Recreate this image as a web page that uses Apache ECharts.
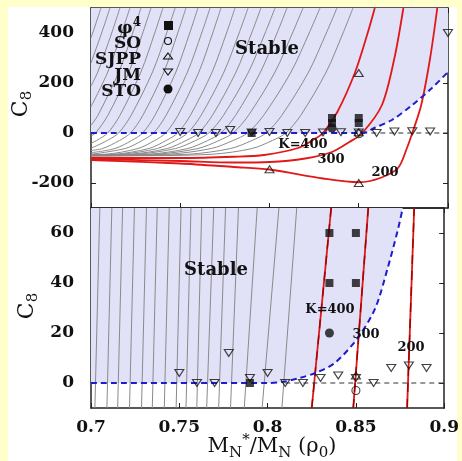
<!DOCTYPE html>
<html>
<head>
<meta charset="utf-8">
<script src="https://cdn.jsdelivr.net/npm/echarts@6/dist/echarts.min.js"></script>
<style>
html, body { margin: 0; padding: 0; background: #ffffcc; }
#chart { width: 462px; height: 461px; }
</style>
</head>
<body>
<div id="chart"></div>
<script>
// tick values
const xTicks = [0.7, 0.75, 0.8, 0.85, 0.9];
const topTicks = [-200, 0, 200, 400];
const bottomTicks = [0, 20, 40, 60];

// model points [M*/M, C8]
const phi4 = [[0.79, 0], [0.835, 40], [0.835, 60], [0.85, 40], [0.85, 60]];
const so = [[0.85, -3]];
const sjpp = [[0.8, -145], [0.85, -200], [0.85, 240], [0.85, 3]];
const jm = [[0.75, 4], [0.76, 0], [0.77, 0], [0.778, 12], [0.79, 2], [0.80, 4], [0.81, 0], [0.82, 0],
            [0.83, 2], [0.84, 3], [0.85, 2], [0.86, 0], [0.87, 6], [0.88, 7], [0.89, 6], [0.9, 400]];
const sto = [[0.835, 20]];

// stability boundary (blue dashed)
const boundTop = [[0.7, 0], [0.852, 0], [0.859, 21], [0.8686, 52], [0.880, 112], [0.891, 180], [0.9, 244]];
const boundBottom = [[0.7, 0], [0.80, 0], [0.809, 0.5], [0.818, 2], [0.827, 4], [0.838, 8], [0.851, 18],
                     [0.861, 30], [0.868, 46], [0.874, 62], [0.8765, 70]];
const zeroTop = [[0.852, 0], [0.9, 0]];
const zeroBottom = [[0.81, 0], [0.9, 0]];

// K = 400, 300, 200 curves, upper panel
const k400Top = [[0.7, -100], [0.75, -100], [0.78, -95], [0.797, -88], [0.816, -60], [0.825, -25], [0.830, 0],
                 [0.838, 84], [0.848, 244], [0.855, 400], [0.859, 500]];
const k300Top = [[0.7, -104], [0.75, -112], [0.78, -118], [0.80, -116], [0.82, -102], [0.835, -76], [0.845, -35],
                 [0.852, 0], [0.863, 112], [0.870, 300], [0.875, 500]];
const k200Top = [[0.7, -108], [0.75, -122], [0.78, -136], [0.80, -146], [0.83, -182], [0.85, -197], [0.862, -180],
                 [0.872, -140], [0.877, -60], [0.880, 0], [0.885, 112], [0.890, 300], [0.894, 500]];
// lower panel
const k400Bottom = [[0.825, -10], [0.836, 70]];
const k300Bottom = [[0.8485, -10], [0.857, 70]];
const k200Bottom = [[0.879, -10], [0.883, 70]];

// other K curves (grey), upper panel
const greyTop = [
  [[0.7, 381], [0.70095, 400], [0.7056, 500]],
  [[0.7, 280], [0.70595, 400], [0.7106, 500]],
  [[0.7, 188], [0.7038, 244], [0.7116, 400], [0.7162, 500]],
  [[0.7, 105], [0.7094, 244], [0.71715, 400], [0.7218, 500]],
  [[0.7, 31], [0.7038, 70], [0.7156, 244], [0.72335, 400], [0.7280, 500]],
  [[0.7, -12], [0.70255, 0], [0.70939, 70], [0.72121, 244], [0.72899, 400], [0.7336, 500]],
  [[0.7, -41], [0.70315, -30], [0.70935, 0], [0.71617, 70], [0.72795, 244], [0.7357, 400], [0.7403, 500]],
  [[0.7, -61], [0.70911, -30], [0.71545, 0], [0.72242, 70], [0.73447, 244], [0.7424, 400], [0.7471, 500]],
  [[0.7, -70], [0.7066, -62], [0.71593, -30], [0.72215, 0], [0.72899, 70], [0.74081, 244], [0.74859, 400], [0.7532, 500]],
  [[0.7, -79], [0.71345, -62], [0.72275, -30], [0.72895, 0], [0.73577, 70], [0.74755, 244], [0.7553, 400], [0.7599, 500]],
  [[0.7, -85], [0.7192, -62], [0.72871, -30], [0.73505, 0], [0.74202, 70], [0.75407, 244], [0.762, 400], [0.7667, 500]],
  [[0.7, -86], [0.70775, -85], [0.72635, -62], [0.73565, -30], [0.74185, 0], [0.74867, 70], [0.76045, 244], [0.7682, 400], [0.7728, 500]],
  [[0.7, -87], [0.71313, -85], [0.73245, -62], [0.74211, -30], [0.74855, 0], [0.75563, 70], [0.76787, 244], [0.77592, 400], [0.7807, 500]],
  [[0.7, -88], [0.71686, -85], [0.7372, -62], [0.74737, -30], [0.75415, 0], [0.76161, 70], [0.77449, 244], [0.78297, 400], [0.788, 500]],
  [[0.7, -88], [0.72175, -85], [0.74275, -62], [0.75325, -30], [0.76025, 0], [0.76795, 70], [0.78125, 244], [0.79, 400], [0.7952, 500]],
  [[0.7, -88], [0.72519, -85], [0.74745, -62], [0.75858, -30], [0.766, 0], [0.77416, 70], [0.78826, 244], [0.79754, 400], [0.8031, 500]],
  [[0.7, -89], [0.73209, -85], [0.75429, -62], [0.76539, -30], [0.77279, 0], [0.78093, 70], [0.79499, 244], [0.80424, 400], [0.8098, 500]],
  [[0.7, -90], [0.73644, -85], [0.75996, -62], [0.77172, -30], [0.77956, 0], [0.78818, 70], [0.80308, 244], [0.81288, 400], [0.8188, 500]],
  [[0.7, -90], [0.74305, -85], [0.76741, -62], [0.77959, -30], [0.78771, 0], [0.79664, 70], [0.81207, 244], [0.82222, 400], [0.8283, 500]],
  [[0.7, -91], [0.75442, -85], [0.77824, -62], [0.79015, -30], [0.79809, 0], [0.80682, 70], [0.82191, 244], [0.83184, 400], [0.8378, 500]],
  [[0.7, -93], [0.7149, -92], [0.76768, -85], [0.7903, -62], [0.80161, -30], [0.80915, 0], [0.81744, 70], [0.83177, 244], [0.8412, 400], [0.8468, 500]]
];
// grey curves, lower panel: [x at C8=-10, x at C8=70]
const greyBottom = [
  [0.7022, 0.7050], [0.7090, 0.7118], [0.7151, 0.7179], [0.7218, 0.7246], [0.7286, 0.7314], [0.7347, 0.7375],
  [0.7415, 0.7443], [0.7482, 0.7510], [0.7538, 0.7566], [0.7599, 0.7627], [0.7655, 0.7695], [0.7723, 0.7762],
  [0.7790, 0.7835], [0.7868, 0.7941], [0.7969, 0.8064], [0.8081, 0.8165]
];

const FONT = 'DejaVu Serif';
const chart = echarts.init(document.getElementById('chart'));

function xAx(grid, pos, labels) {
  return {
    type: 'value', gridIndex: grid, position: pos, min: 0.7, max: 0.9,
    axisLine: { show: true, onZero: false, lineStyle: { color: '#222', width: 1.5 } },
    axisTick: { show: true, inside: true, length: 5, customValues: xTicks, lineStyle: { color: '#222' } },
    axisLabel: { show: labels, customValues: xTicks, formatter: v => String(v), margin: 11,
                 fontFamily: FONT, fontWeight: 'bold', fontSize: 17, color: '#111' },
    splitLine: { show: false }
  };
}
function yAx(grid, pos, min, max, ticks, labels) {
  return {
    type: 'value', gridIndex: grid, position: pos, min: min, max: max,
    axisLine: { show: true, onZero: false, lineStyle: { color: '#222', width: 1.5 } },
    axisTick: { show: true, inside: true, length: 5, customValues: ticks, lineStyle: { color: '#222' } },
    axisLabel: { show: labels, customValues: ticks, margin: 17,
                 fontFamily: FONT, fontWeight: 'bold', fontSize: 17, color: '#111' },
    splitLine: { show: false }
  };
}

const series = [];
function line(data, ax, style, z, smooth) {
  series.push({
    type: 'line', data: data, xAxisIndex: ax, yAxisIndex: ax, showSymbol: false, symbol: 'none',
    smooth: smooth ? 0.3 : false, lineStyle: style, z: z, silent: true, clip: true
  });
}
// stable areas
[[boundTop, 0], [boundBottom, 2]].forEach(([d, ax]) => {
  series.push({
    type: 'line', data: d, xAxisIndex: ax, yAxisIndex: ax, symbol: 'none', smooth: 0.3,
    lineStyle: { width: 0 }, areaStyle: { origin: 'end', color: '#e1e1f7', opacity: 1 }, z: 1, silent: true
  });
});
greyTop.forEach(d => line(d, 0, { color: '#8a8a8a', width: 1 }, 2, true));
greyBottom.forEach(p => line([[p[0], -10], [p[1], 70]], 2, { color: '#8a8a8a', width: 1 }, 2, false));
const red = { color: '#e01818', width: 1.8 };
[k400Top, k300Top, k200Top].forEach(d => line(d, 0, red, 3, true));
[k400Bottom, k300Bottom, k200Bottom].forEach(d => {
  line(d, 2, red, 3, false);
  line(d, 2, { color: '#a00000', width: 1.4, type: [9, 7] }, 3, false);
});
line(zeroTop, 0, { color: '#333', width: 1, type: [5, 4] }, 3, false);
line(zeroBottom, 2, { color: '#333', width: 1, type: [5, 4] }, 3, false);
line(boundTop, 0, { color: '#1c1cd0', width: 2, type: [6, 4] }, 4, true);
line(boundBottom, 2, { color: '#1c1cd0', width: 2, type: [6, 4] }, 4, true);

const open = { color: 'rgba(255,255,255,0)', borderColor: '#111', borderWidth: 1.1 };
const marks = [
  { d: phi4, symbol: 'rect', size: 8, style: { color: '#111' } },
  { d: so, symbol: 'circle', size: 8, style: open },
  { d: sjpp, symbol: 'triangle', size: [9, 7], style: open },
  { d: jm, symbol: 'triangle', size: [9, 7], style: open, rot: 180 },
  { d: sto, symbol: 'circle', size: 9, style: { color: '#111' } }
];
[0, 2].forEach(ax => marks.forEach(m => series.push({
  type: 'scatter', data: m.d, xAxisIndex: ax, yAxisIndex: ax, symbol: m.symbol, symbolSize: m.size,
  symbolRotate: m.rot || 0, itemStyle: m.style, z: 5, silent: true, clip: true
})));

const txt = (x, y, text, size, weight) => ({
  type: 'text', x: x, y: y, z: 100,
  style: { text: text, fontFamily: FONT, fontSize: size, fontWeight: weight || 'bold', fill: '#111',
           align: 'center', verticalAlign: 'middle' }
});

const legendRows = [['{m|φ}{p|4}', 27], ['{m|SO}', 42], ['{m|SJPP}', 58], ['{m|JM}', 74], ['{m|STO}', 90]];
const legendRich = {
  m: { fontFamily: FONT, fontSize: 17, fontWeight: 'bold', lineHeight: 20, verticalAlign: 'bottom', fill: '#111' },
  p: { fontFamily: FONT, fontSize: 12, fontWeight: 'bold', lineHeight: 12, verticalAlign: 'top', fill: '#111' }
};

const graphic = [
  { type: 'rect', shape: { x: 8, y: 7, width: 449, height: 454 }, style: { fill: '#ffffff' }, z: -100 },
  txt(267, 49, 'Stable', 18),
  txt(216, 270, 'Stable', 18),
  txt(303, 145, 'K=400', 13), txt(331, 160, '300', 13), txt(385, 173, '200', 13),
  txt(330, 310, 'K=400', 13), txt(366, 335, '300', 13), txt(411, 348, '200', 13),
  {
    type: 'text', x: 272, y: 447, z: 100,
    style: {
      text: '{m|M}{s|N}{p|*}{m|/M}{s|N}{m| (ρ}{s|0}{m|)}', align: 'center', verticalAlign: 'middle',
      rich: {
        m: { fontFamily: FONT, fontSize: 21, lineHeight: 28, verticalAlign: 'middle', fill: '#111' },
        s: { fontFamily: FONT, fontSize: 15, lineHeight: 14, verticalAlign: 'bottom', fill: '#111' },
        p: { fontFamily: FONT, fontSize: 15, lineHeight: 14, verticalAlign: 'top', fill: '#111' }
      }
    }
  }
];
[[21, 104], [27, 306]].forEach(([x, y]) => graphic.push({
  type: 'text', x: x, y: y, rotation: Math.PI / 2, z: 100,
  style: {
    text: '{m|C}{s|8}', align: 'center', verticalAlign: 'middle',
    rich: {
      m: { fontFamily: FONT, fontSize: 22, lineHeight: 28, verticalAlign: 'middle', fill: '#111' },
      s: { fontFamily: FONT, fontSize: 15, lineHeight: 15, verticalAlign: 'bottom', fill: '#111' }
    }
  }
}));
legendRows.forEach(([t, y]) => graphic.push({
  type: 'text', x: 141, y: y, z: 100,
  style: { text: t, align: 'right', verticalAlign: 'middle', rich: legendRich }
}));
graphic.push(
  { type: 'rect', shape: { x: 164, y: 21, width: 9, height: 9 }, style: { fill: '#111' }, z: 100 },
  { type: 'circle', shape: { cx: 168, cy: 41, r: 3.5 }, style: { fill: 'none', stroke: '#111', lineWidth: 1.1 }, z: 100 },
  { type: 'polygon', shape: { points: [[168, 53], [172.5, 59], [163.5, 59]] }, style: { fill: 'none', stroke: '#111', lineWidth: 1.1 }, z: 100 },
  { type: 'polygon', shape: { points: [[163.5, 69], [172.5, 69], [168, 75]] }, style: { fill: 'none', stroke: '#111', lineWidth: 1.1 }, z: 100 },
  { type: 'circle', shape: { cx: 168, cy: 89, r: 4.5 }, style: { fill: '#111' }, z: 100 }
);

chart.setOption({
  animation: false,
  backgroundColor: '#ffffcc',
  grid: [
    { left: 91, top: 8, width: 357, height: 200 },
    { left: 91, top: 208, width: 357, height: 200 }
  ],
  xAxis: [xAx(0, 'bottom', false), xAx(0, 'top', false), xAx(1, 'bottom', true), xAx(1, 'top', false)],
  yAxis: [yAx(0, 'left', -300, 500, topTicks, true), yAx(0, 'right', -300, 500, topTicks, false),
          yAx(1, 'left', -10, 70, bottomTicks, true), yAx(1, 'right', -10, 70, bottomTicks, false)],
  series: series,
  graphic: graphic
});
</script>
</body>
</html>
